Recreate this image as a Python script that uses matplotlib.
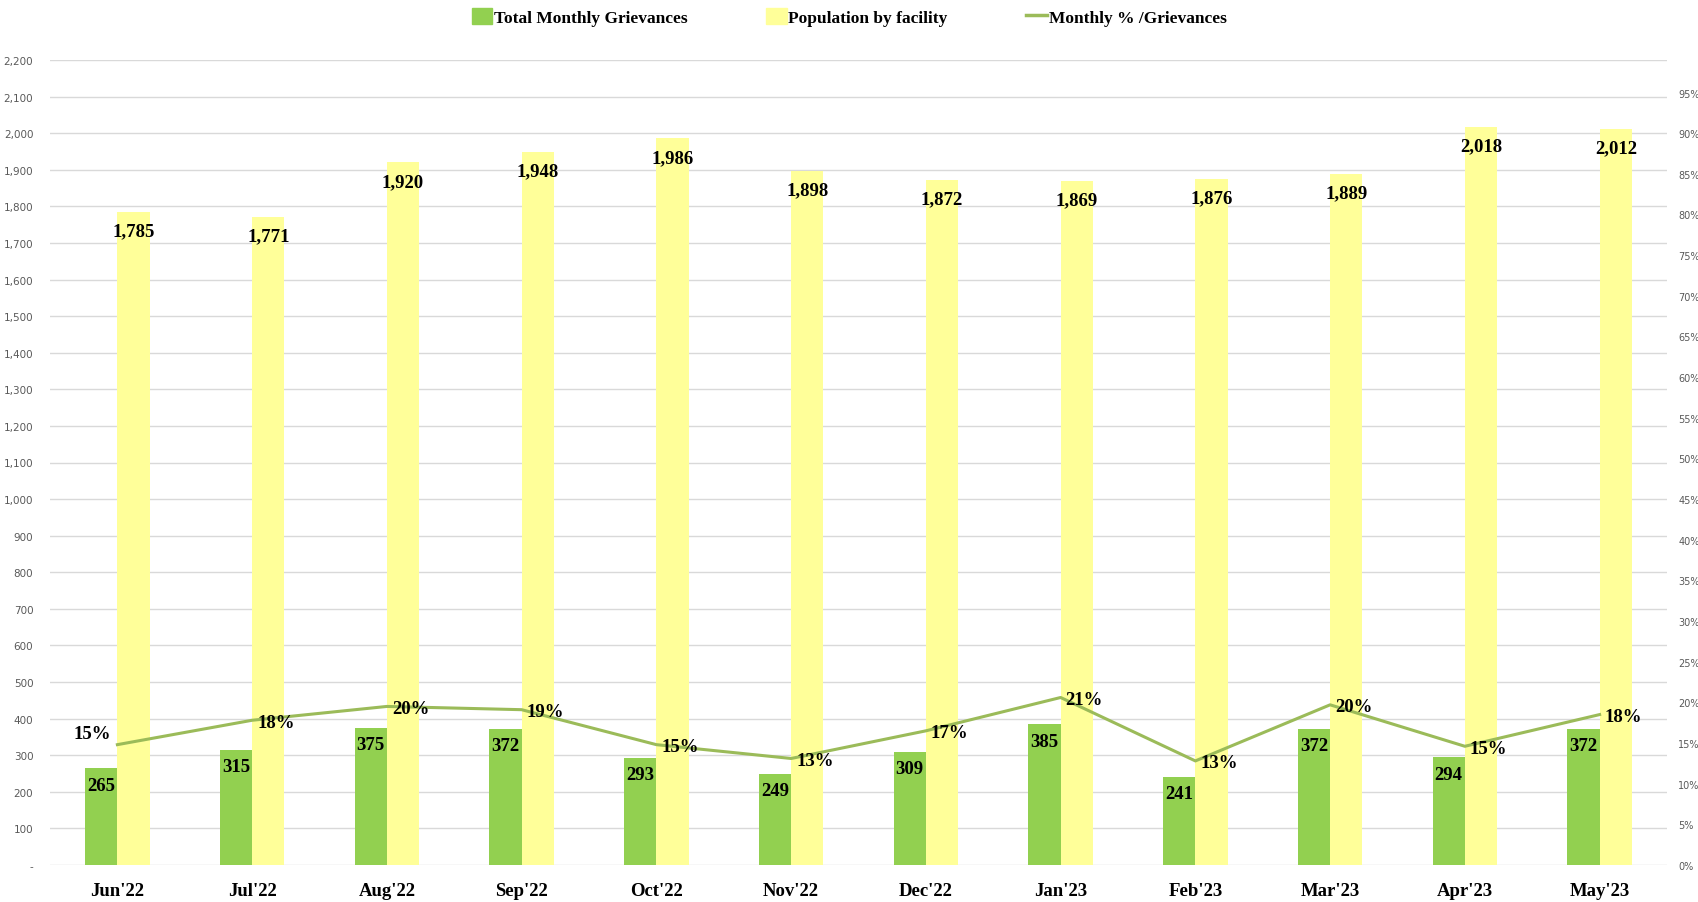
import matplotlib
matplotlib.use("Agg")
import matplotlib.pyplot as plt
from matplotlib.ticker import FuncFormatter, MultipleLocator
from matplotlib.patches import Patch
from matplotlib.lines import Line2D
import numpy as np

months = ["Jun'22", "Jul'22", "Aug'22", "Sep'22", "Oct'22", "Nov'22",
          "Dec'22", "Jan'23", "Feb'23", "Mar'23", "Apr'23", "May'23"]
grievances = [265, 315, 375, 372, 293, 249, 309, 385, 241, 372, 294, 372]
population = [1785, 1771, 1920, 1948, 1986, 1898, 1872, 1869, 1876, 1889, 2018, 2012]
pct = [14.8, 17.8, 19.5, 19.1, 14.8, 13.1, 16.5, 20.6, 12.8, 19.7, 14.6, 18.5]
pct_labels = ["15%", "18%", "20%", "19%", "15%", "13%",
              "17%", "21%", "13%", "20%", "15%", "18%"]

GREEN = "#92D050"
YELLOW = "#FFFF99"
LINE = "#9BBB59"
GRID = "#D9D9D9"
TICK = "#595959"
SERIF = ["Liberation Serif", "DejaVu Serif"]

fig = plt.figure(figsize=(16.98, 9.03), dpi=100)
ax = fig.add_axes([50 / 1698, 37 / 903, 1617 / 1698, 805 / 903])
ax2 = ax.twinx()

x = np.arange(len(months))
w = 0.24
ax.bar(x - w / 2, grievances, w, color=GREEN, zorder=2)
ax.bar(x + w / 2, population, w, color=YELLOW, zorder=2)

ax.set_xlim(-0.5, len(months) - 0.5)
ax.set_ylim(0, 2200)
ax.yaxis.set_major_locator(MultipleLocator(100))
ax.yaxis.set_major_formatter(FuncFormatter(lambda v, p: "-" if v == 0 else f"{v:,.0f}"))
ax.grid(axis="y", color=GRID, lw=1, zorder=0)
ax.set_axisbelow(True)
for s in ax.spines.values():
    s.set_visible(False)
for s in ax2.spines.values():
    s.set_visible(False)
ax.tick_params(axis="both", length=0)
ax.tick_params(axis="y", labelsize=7.5, labelcolor=TICK, pad=12)
ax.set_xticks(x)
ax.set_xticklabels(months, fontfamily=SERIF, fontweight="bold", fontsize=13.5)
ax.tick_params(axis="x", pad=12)

for xi, v in zip(x, grievances):
    ax.annotate(f"{v:,}", (xi - w / 2, v), xytext=(0, -17), textcoords="offset pixels",
                ha="center", va="center", fontfamily=SERIF, fontweight="bold", fontsize=13.5)
for xi, v in zip(x, population):
    ax.annotate(f"{v:,}", (xi + w / 2, v), xytext=(0, -19), textcoords="offset pixels",
                ha="center", va="center", fontfamily=SERIF, fontweight="bold", fontsize=13.5)

# line on secondary axis
ax2.plot(x, pct, color=LINE, lw=2.2, zorder=3)
ax2.set_ylim(0, 99)
ax2.set_yticks(np.arange(0, 100, 5))
ax2.yaxis.set_major_formatter(FuncFormatter(lambda v, p: f"{v:.0f}%"))
ax2.tick_params(axis="y", length=0, labelsize=7, labelcolor=TICK, pad=8)

for i, (xi, v, lab) in enumerate(zip(x, pct, pct_labels)):
    if i == 0:
        ax2.annotate(lab, (xi, v), xytext=(-25, 11), textcoords="offset pixels",
                     ha="center", va="center", fontfamily=SERIF, fontweight="bold", fontsize=13.5)
    else:
        ax2.annotate(lab, (xi, v), xytext=(5, -2), textcoords="offset pixels",
                     ha="left", va="center", fontfamily=SERIF, fontweight="bold", fontsize=13.5)

handles = [Patch(color=GREEN, label="Total Monthly Grievances"),
           Patch(color=YELLOW, label="Population by facility"),
           Line2D([0], [0], color=LINE, lw=2.5, label="Monthly % /Grievances")]
fig.legend(handles=handles, loc="center", bbox_to_anchor=(0.5, 1 - 18 / 903), ncol=3,
           frameon=False, handlelength=1.2, handleheight=1.0, handletextpad=0.1,
           columnspacing=4.5, prop={"family": SERIF, "weight": "bold", "size": 12.5})

fig.savefig("out.png", dpi=100)
